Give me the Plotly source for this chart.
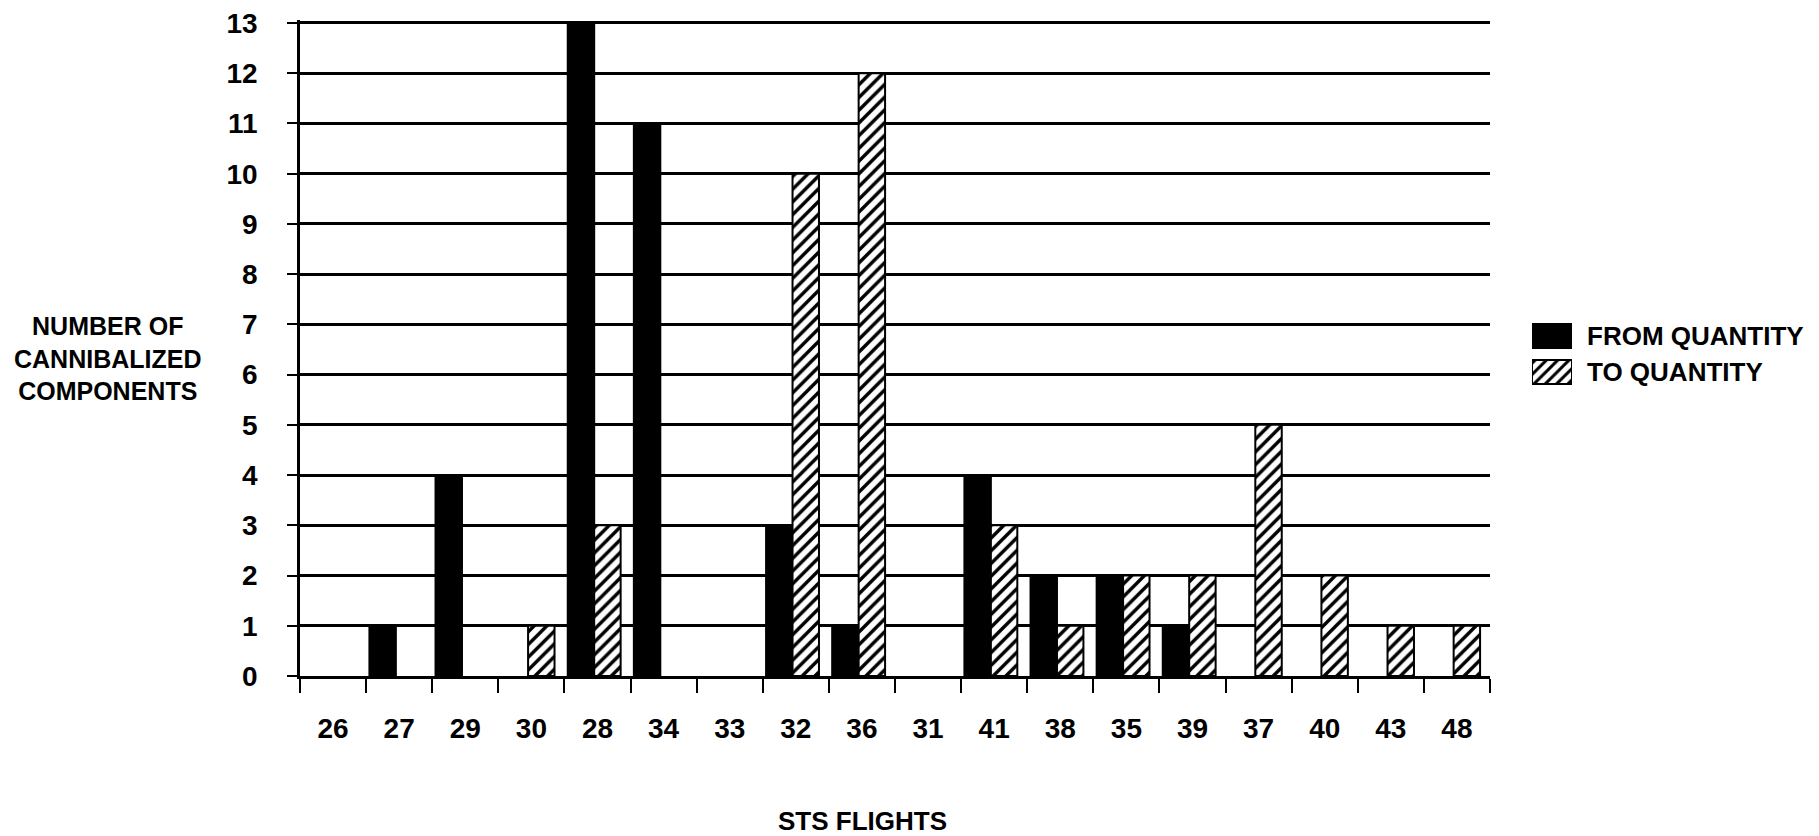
import plotly.graph_objects as go

# ---- data ----
flights = ["26", "27", "29", "30", "28", "34", "33", "32", "36", "31",
           "41", "38", "35", "39", "37", "40", "43", "48"]
from_qty = [0, 1, 4, 0, 13, 11, 0, 3, 1, 0, 4, 2, 2, 1, 0, 0, 0, 0]
to_qty = [0, 0, 0, 1, 3, 0, 0, 10, 12, 0, 3, 1, 2, 2, 5, 2, 1, 1]
series_names = ["FROM QUANTITY", "TO QUANTITY"]
y_ticks = list(range(0, 14))

W, H = 1819, 836
FONT = "Liberation Sans, Arial, Helvetica, sans-serif"
OFF = 8  # page body margin

# plot area in page pixels
x0, x1 = 300 - OFF, 1490 - OFF
y_top, y_bot = 23 - OFF, 676 - OFF
Y_MAX = 13.06
unit = (y_bot - y_top) / 13.0
y_top_dom = y_top - (Y_MAX - 13.0) * unit

HATCH = dict(shape="/", fgcolor="black", bgcolor="white", size=9, solidity=0.38)


def nz(vals):
    # zero-height bars are not drawn in the original
    return [v if v else None for v in vals]


fig = go.Figure()

fig.add_trace(go.Bar(
    x=flights, y=nz(from_qty), name=series_names[0],
    marker=dict(color="black", line=dict(color="black", width=2)),
    width=0.4, offset=-0.45, showlegend=False,
    xaxis="x", yaxis="y",
))
fig.add_trace(go.Bar(
    x=flights, y=nz(to_qty), name=series_names[1],
    marker=dict(color="white", line=dict(color="black", width=2),
                pattern=HATCH),
    width=0.4, offset=-0.05, showlegend=False,
    xaxis="x", yaxis="y",
))

# legend swatches drawn as tiny bars on their own axes
fig.add_trace(go.Bar(
    x=[1], y=[series_names[0]], orientation="h",
    marker=dict(color="black", line=dict(color="black", width=2)),
    width=0.667, showlegend=False, hoverinfo="skip",
    xaxis="x2", yaxis="y2",
))
fig.add_trace(go.Bar(
    x=[1], y=[series_names[1]], orientation="h",
    marker=dict(color="white", line=dict(color="black", width=2),
                pattern=dict(shape="/", fgcolor="black", bgcolor="white",
                             size=8, solidity=0.38)),
    width=0.667, showlegend=False, hoverinfo="skip",
    xaxis="x2", yaxis="y2",
))

fig.update_layout(
    template="none",
    width=W, height=H, autosize=False,
    margin=dict(l=0, r=0, t=0, b=0, autoexpand=False),
    paper_bgcolor="white", plot_bgcolor="white",
    font=dict(family=FONT, color="black", size=28, weight="bold"),
    barmode="overlay",
    showlegend=False,
    xaxis=dict(
        domain=[x0 / W, x1 / W], type="category", automargin=False,
        categoryorder="array", categoryarray=flights,
        showgrid=False, zeroline=False,
        showline=True, linecolor="black", linewidth=2.5,
        ticks="outside", tickson="boundaries", ticklen=14, tickwidth=2,
        tickcolor="black", ticklabelstandoff=26, ticklabeloverflow="allow",
        tickfont=dict(size=28, family=FONT, weight="bold", color="black"),
    ),
    yaxis=dict(
        domain=[(H - y_bot) / H, (H - y_top_dom) / H], automargin=False,
        range=[0, Y_MAX], tickvals=y_ticks,
        showgrid=True, gridcolor="black", gridwidth=2.5,
        zeroline=False,
        showline=True, linecolor="black", linewidth=2.5,
        ticks="outside", ticklen=10, tickwidth=2, tickcolor="black",
        ticklabelstandoff=24, ticklabeloverflow="allow",
        tickfont=dict(size=28, family=FONT, weight="bold", color="black"),
    ),
    xaxis2=dict(
        domain=[(1532 - OFF) / W, (1572 - OFF) / W], range=[0, 1],
        visible=False, anchor="y2", automargin=False,
    ),
    yaxis2=dict(
        domain=[(H - 390 + OFF) / H, (H - 318 + OFF) / H], anchor="x2",
        automargin=False,
        type="category", categoryorder="array",
        categoryarray=series_names[::-1],
        side="right", showgrid=False, zeroline=False, showline=False,
        ticks="", ticklabelstandoff=14, ticklabeloverflow="allow",
        tickfont=dict(size=26, family=FONT, weight="bold", color="black"),
    ),
    annotations=[
        dict(text="NUMBER OF<br>CANNIBALIZED<br>COMPONENTS",
             xref="paper", yref="paper", x=(108 - OFF) / W, y=(H - 358 + OFF) / H,
             xanchor="center", yanchor="middle", showarrow=False,
             align="center",
             font=dict(size=25, family=FONT, weight="bold", color="black")),
        dict(text="STS FLIGHTS",
             xref="paper", yref="paper", x=(862 - OFF) / W, y=(H - 821 + OFF) / H,
             xanchor="center", yanchor="middle", showarrow=False,
             font=dict(size=26, family=FONT, weight="bold", color="black")),
    ],
)

fig.write_html("out.html")
